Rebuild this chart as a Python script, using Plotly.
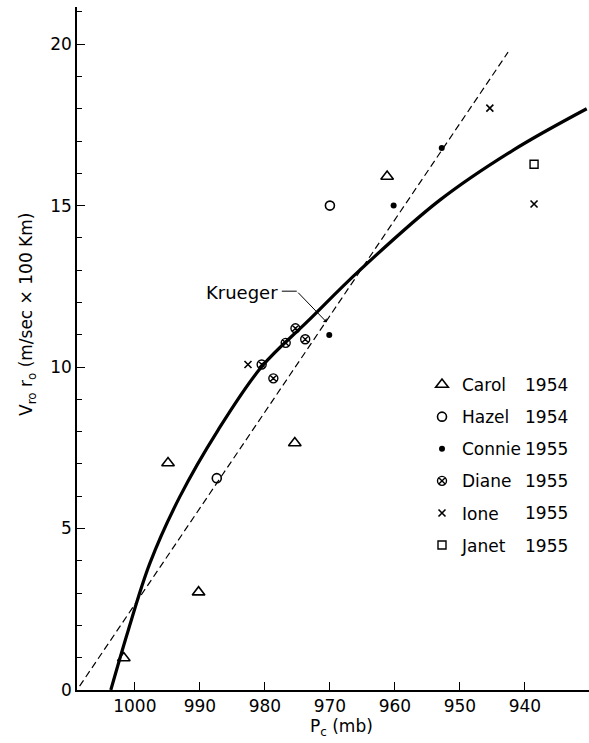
import plotly.graph_objects as go

# ---- data ----
carol_p = [1001.7, 994.9, 990.2, 975.4, 961.2]
carol_v = [0.99, 7.03, 3.03, 7.65, 15.9]
hazel_p = [987.4, 970.0]
hazel_v = [6.56, 15.0]
connie_p = [970.1, 960.2, 952.8]
connie_v = [10.99, 15.0, 16.78]
diane_p = [975.3, 976.8, 973.8, 980.5, 978.7]
diane_v = [11.2, 10.75, 10.86, 10.08, 9.65]
ione_p = [982.6, 945.4, 938.6]
ione_v = [10.08, 18.02, 15.05]
janet_p = [938.6]
janet_v = [16.28]

curve_p = [1003.7, 1001.0, 997.7, 993.1, 987.2, 980.5, 973.4, 965.4, 953.1, 941.8, 930.5]
curve_v = [0.0, 1.86, 3.92, 5.98, 8.05, 10.01, 11.42, 13.0, 15.17, 16.72, 18.0]

krueger_p = [1008.5, 942.6]
krueger_v = [0.12, 19.75]

x_ticks = [1000, 990, 980, 970, 960, 950, 940]
y_ticks = [0, 5, 10, 15, 20]

legend_names = ["Carol", "Hazel", "Connie", "Diane", "Ione", "Janet"]
legend_years = ["1954", "1954", "1955", "1955", "1955", "1955"]

FONT = "DejaVu Sans"
W, H = 589, 743
L, R, T, B = 77, 0, 7, 53
PW, PH = W - L - R, H - T - B


def px(xp):
    return (xp - L) / PW


def py(yp):
    return (H - B - yp) / PH


fig = go.Figure()

fig.add_trace(go.Scatter(x=krueger_p, y=krueger_v, mode="lines",
                         line=dict(color="black", width=1.2, dash="7px,4px"),
                         showlegend=False, hoverinfo="skip"))
fig.add_trace(go.Scatter(x=curve_p, y=curve_v, mode="lines",
                         line=dict(color="black", width=3.2, shape="spline", smoothing=1.0),
                         showlegend=False, hoverinfo="skip"))

series = [
    (carol_p, carol_v, dict(symbol="triangle-up-open", size=11, color="black",
                            line=dict(width=1.6, color="black"))),
    (hazel_p, hazel_v, dict(symbol="circle-open", size=9, color="black",
                            line=dict(width=1.6, color="black"))),
    (connie_p, connie_v, dict(symbol="circle", size=6, color="black")),
    (diane_p, diane_v, dict(symbol="circle-x-open", size=9, color="black",
                            line=dict(width=1.4, color="black"))),
    (ione_p, ione_v, dict(symbol="x-thin-open", size=7, color="black",
                          line=dict(width=1.6, color="black"))),
    (janet_p, janet_v, dict(symbol="square-open", size=8, color="black",
                            line=dict(width=1.4, color="black"))),
]
for i, ((xs, ys, marker), name) in enumerate(zip(series, legend_names)):
    fig.add_trace(go.Scatter(x=xs, y=ys, mode="markers", name=name, marker=marker,
                             legendgroup="g%d" % i, showlegend=True))

annotations = []
rows = [385, 417, 449, 481, 513, 546]
for year, yy in zip(legend_years, rows):
    annotations.append(dict(xref="paper", yref="paper", x=px(523), y=py(yy), text=year,
                            showarrow=False, xanchor="left", yanchor="middle",
                            font=dict(family=FONT, size=17, color="black")))

# Krueger label with bent leader
annotations.append(dict(x=977.7, y=12.32, xref="x", yref="y", text="Krueger",
                        showarrow=False, xanchor="right", yanchor="middle",
                        font=dict(family=FONT, size=18, color="black")))
annotations.append(dict(x=970.5, y=11.39, xref="x", yref="y", ax=975.1, ay=12.35,
                        axref="x", ayref="y", text="", showarrow=True,
                        arrowhead=1, arrowsize=0.9, arrowwidth=1, arrowcolor="black",
                        standoff=0, startstandoff=0))

# axis titles
annotations.append(dict(xref="paper", yref="paper", x=px(27), y=py(315),
                        text="V<sub>ro</sub> r<sub>o</sub> (m/sec \u00d7 100 Km)",
                        textangle=-90, showarrow=False, xanchor="center", yanchor="middle",
                        font=dict(family=FONT, size=17, color="black")))
annotations.append(dict(xref="paper", yref="paper", x=px(341), y=py(727),
                        text="P<sub>c</sub> (mb)", showarrow=False,
                        xanchor="center", yanchor="middle",
                        font=dict(family=FONT, size=17, color="black")))

shapes = [dict(type="line", xref="x", yref="y", x0=977.4, y0=12.35, x1=975.1, y1=12.35,
               line=dict(color="black", width=1))]

fig.update_layout(
    width=W, height=H,
    margin=dict(l=L, r=R, t=T, b=B),
    paper_bgcolor="white", plot_bgcolor="white",
    annotations=annotations, shapes=shapes,
    showlegend=True,
    legend=dict(x=px(422), y=py(367), xanchor="left", yanchor="top",
                bgcolor="rgba(0,0,0,0)", borderwidth=0,
                font=dict(family=FONT, size=17, color="black"),
                traceorder="grouped", tracegroupgap=7, itemwidth=30,
                itemclick=False, itemdoubleclick=False),
    xaxis=dict(range=[1008.9, 930.15], tickvals=x_ticks, ticks="inside", ticklen=8,
               tickwidth=1.2, tickcolor="black", showline=True, linecolor="black",
               linewidth=1.5, showgrid=False, zeroline=False,
               tickfont=dict(family=FONT, size=17, color="black")),
    yaxis=dict(range=[0, 21.15], tickvals=y_ticks, ticks="inside", ticklen=8,
               tickwidth=1.2, tickcolor="black", showline=True, linecolor="black",
               linewidth=1.5, showgrid=False, zeroline=False,
               minor=dict(dtick=1, tick0=0, ticks="inside", ticklen=5, tickcolor="black",
                          tickwidth=1, showgrid=False),
               tickfont=dict(family=FONT, size=17, color="black")),
)

fig.write_html("out.html")
